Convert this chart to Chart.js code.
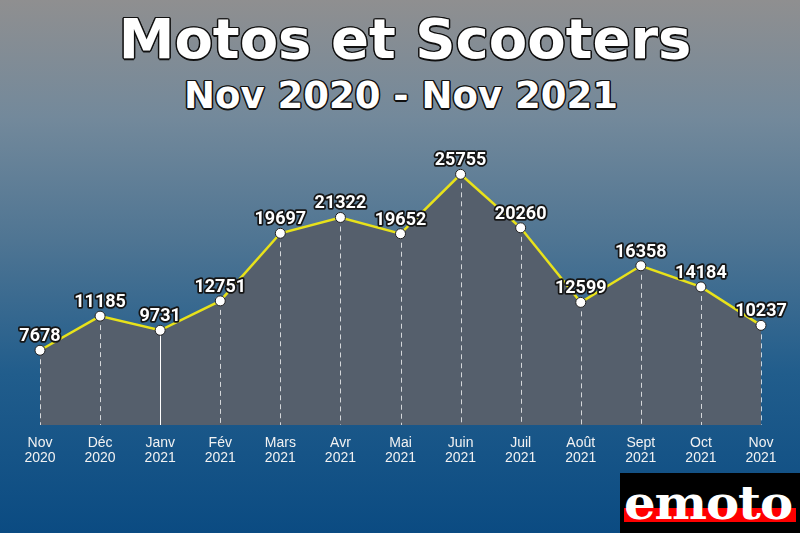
<!DOCTYPE html>
<html>
<head>
<meta charset="utf-8">
<script src="https://cdn.jsdelivr.net/npm/chart.js@4"></script>
<style>
  html, body { margin:0; padding:0; }
  body {
    width:800px; height:533px; overflow:hidden; position:relative;
    background: linear-gradient(to bottom, #8f8f90 0%, #73899b 22%, #4f7593 45%, #215d8c 70%, #0b4b82 100%);
    font-family: "DejaVu Sans", sans-serif;
  }
  #chartCanvas { position:absolute; left:0; top:0; }
  .title {
    position:absolute; left:0; width:810px; text-align:center; color:#fff; font-weight:bold;
    text-shadow: -1px -1px 0 #111, 1px -1px 0 #111, -1px 1px 0 #111, 1px 1px 0 #111,
                 0 -1.5px 0 #111, 0 1.5px 0 #111, -1.5px 0 0 #111, 1.5px 0 0 #111;
  }
  #t1 { top:4px; font-size:56px; line-height:70px; }
  #t2 { top:73px; font-size:37px; line-height:46px; left:-4px; }
  #logo { position:absolute; left:620px; top:473px; width:180px; height:60px; background:#000; overflow:hidden; }
  #logo .band { position:absolute; left:4px; top:35px; width:172px; height:14px; background:#f00; }
  #logo .txt { position:absolute; left:4px; top:5px; font-family:"DejaVu Serif", serif; font-weight:bold;
    font-size:46px; line-height:50px; color:#fff; letter-spacing:-1px;
    transform:scaleX(1.08); transform-origin:left top; }
</style>
</head>
<body>
<div class="title" id="t1">Motos et Scooters</div>
<div class="title" id="t2">Nov 2020 - Nov 2021</div>
<canvas id="chartCanvas" width="800" height="533"></canvas>
<div id="logo"><div class="band"></div><div class="txt">emoto</div></div>
<script>
const months = ['Nov','Déc','Janv','Fév','Mars','Avr','Mai','Juin','Juil','Août','Sept','Oct','Nov'];
const years = ['2020','2020','2021','2021','2021','2021','2021','2021','2021','2021','2021','2021','2021'];
const sales = [7678, 11185, 9731, 12751, 19697, 21322, 19652, 25755, 20260, 12599, 16358, 14184, 10237];
const yearStart = 2; // Janv gets a solid line

const labels = months.map((m,i)=>[m, years[i]]);

// dashed lines from each point down to the axis
const dropLines = {
  id:'dropLines',
  beforeDatasetsDraw(chart){
    const {ctx, chartArea, scales:{x,y}} = chart;
    ctx.save();
    ctx.lineWidth = 1;
    sales.forEach((v,i)=>{
      const px = Math.round(x.getPixelForValue(i)) + 0.5;
      const py = y.getPixelForValue(v);
      ctx.strokeStyle = i===yearStart ? '#ffffff' : 'rgba(255,255,255,0.75)';
      ctx.setLineDash(i===yearStart ? [] : [5,4]);
      ctx.beginPath();
      ctx.moveTo(px, py);
      ctx.lineTo(px, chartArea.bottom);
      ctx.stroke();
    });
    ctx.restore();
  }
};

// value labels with dark outline
const valueLabels = {
  id:'valueLabels',
  afterDatasetsDraw(chart){
    const {ctx} = chart;
    const meta = chart.getDatasetMeta(0);
    ctx.save();
    ctx.font = 'bold 18px Roboto, "DejaVu Sans", sans-serif';
    ctx.textAlign = 'center';
    ctx.textBaseline = 'alphabetic';
    ctx.lineJoin = 'round';
    meta.data.forEach((pt,i)=>{
      const txt = String(sales[i]);
      ctx.lineWidth = 3.5;
      ctx.strokeStyle = '#151515';
      ctx.strokeText(txt, pt.x, pt.y - 9);
      ctx.fillStyle = '#ffffff';
      ctx.fillText(txt, pt.x, pt.y - 9);
    });
    ctx.restore();
  }
};

new Chart(document.getElementById('chartCanvas').getContext('2d'), {
  type:'line',
  data:{
    labels,
    datasets:[{
      data: sales,
      borderColor:'#e8e21a',
      borderWidth:2.5,
      backgroundColor:'rgb(85,95,108)',
      fill:'origin',
      tension:0,
      pointRadius:5,
      pointBackgroundColor:'#ffffff',
      pointBorderColor:'#222222',
      pointBorderWidth:1
    }]
  },
  options:{
    responsive:false,
    animation:false,
    layout:{ padding:{ left:40, right:39, top:133, bottom:0 } },
    plugins:{
      legend:{ display:false },
      tooltip:{ enabled:false },
      filler:{ drawTime:'beforeDatasetsDraw' }
    },
    scales:{
      x:{
        offset:false,
        grid:{ display:false, drawTicks:false },
        border:{ display:false },
        ticks:{
          color:'#f2f2f2',
          font:{ family:'"Liberation Sans", Arial, sans-serif', size:14, lineHeight:1.1 },
          padding:10,
          maxRotation:0,
          autoSkip:false
        },
        afterFit(scale){ scale.height = 108; }
      },
      y:{
        display:false,
        min:0,
        max:30000
      }
    }
  },
  plugins:[dropLines, valueLabels]
});
</script>
</body>
</html>
